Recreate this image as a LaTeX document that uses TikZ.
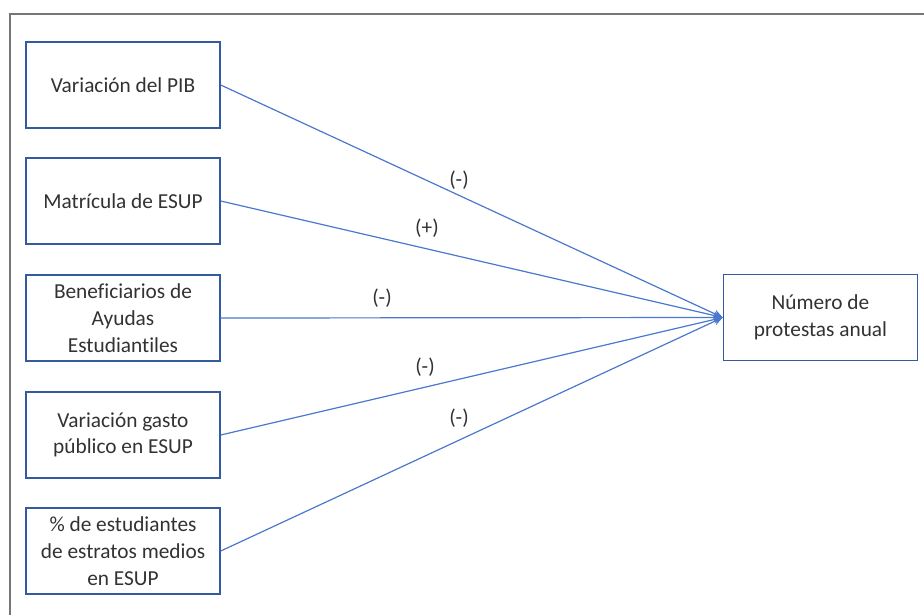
\documentclass[tikz,border=0pt]{standalone}
\usepackage{fontspec}
\setmainfont{Carlito}[Ligatures=CommonOff]
\usetikzlibrary{arrows.meta}

\definecolor{linkblue}{RGB}{74,120,204}
\definecolor{boxblue}{RGB}{52,90,160}
\definecolor{framegray}{RGB}{118,118,118}
\definecolor{textgray}{RGB}{50,50,50}

\tikzset{
  factor/.style={draw=boxblue, line width=1.1pt, minimum width=145.5pt, minimum height=64.5pt,
    align=center, inner sep=0pt, text=textgray, font=\fontsize{16}{20}\selectfont},
  link/.style={draw=linkblue, line width=0.9pt, -{Stealth[length=7pt,width=6pt]}},
  sign/.style={inner sep=0pt, text=textgray, font=\fontsize{16}{18}\selectfont}
}

\begin{document}
\begin{tikzpicture}[x=0.75pt,y=0.75pt,yscale=-1,xscale=1]
    \useasboundingbox (0,0) rectangle (924,615);

    % marco exterior
    \draw [framegray, line width=1.5pt] (10,615) -- (10,14) -- (924,14);

    % variables explicativas
    \node [factor] (pib)    at (123,85)  {Variación del PIB};
    \node [factor] (matric) at (123,201) {Matrícula de ESUP};
    \node [factor] (benef)  at (123,318) {Beneficiarios de\\Ayudas\\Estudiantiles};
    \node [factor] (gasto)  at (123,435) {Variación gasto\\público en ESUP};
    \node [factor] (estrat) at (123,551) {\% de estudiantes\\de estratos medios\\en ESUP};

    % variable dependiente
    \node [factor] (protestas) at (820.5,317.5) {Número de\\protestas anual};

    \draw [link] (pib.east)    -- (protestas.west);
    \draw [link] (matric.east) -- (protestas.west);
    \draw [link] (benef.east)  -- (protestas.west);
    \draw [link] (gasto.east)  -- (protestas.west);
    \draw [link] (estrat.east) -- (protestas.west);

    % signos
    \node [sign] (s1) at (459,180) {(-)};
    \node [sign] (s2) at (427,228) {(+)};
    \node [sign] (s3) at (382,298) {(-)};
    \node [sign] (s4) at (425,367) {(-)};
    \node [sign] (s5) at (459,418) {(-)};
\end{tikzpicture}
\end{document}
